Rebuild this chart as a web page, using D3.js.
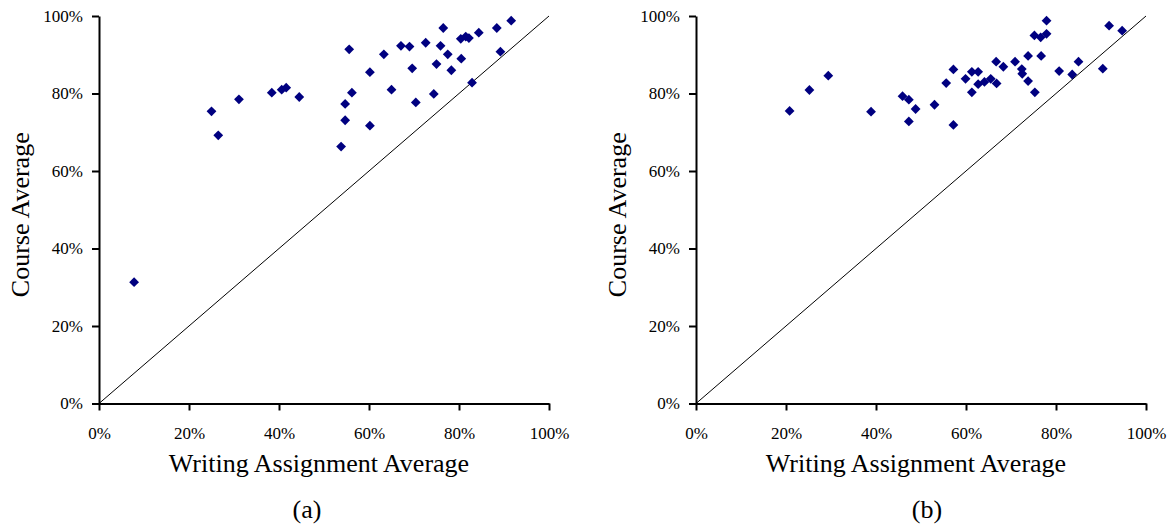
<!DOCTYPE html>
<html>
<head>
<meta charset="utf-8">
<script src="https://cdn.jsdelivr.net/npm/d3@7"></script>
<style>
  body { margin: 0; background: #fff; }
  svg, svg text { font-family: "Liberation Serif", "Times New Roman", serif; }
  .axis path, .axis line { stroke: #000; stroke-width: 2; }
  .axis text { font-family: "Liberation Serif", "Times New Roman", serif; font-size: 17px; fill: #000; }
  .title { font-size: 26px; fill: #000; }
  .tag { font-size: 26px; fill: #000; }
</style>
</head>
<body>
<svg width="1171" height="525"></svg>
<script>
// panel (a) - writing assignment avg vs course avg (%)
var aWriting = [7.8, 25.0, 26.5, 31.1, 38.4, 40.6, 41.6, 44.5, 53.8, 54.7, 54.7, 55.6, 56.2,
    60.2, 60.2, 63.3, 65.0, 67.1, 69.0, 69.6, 70.4, 72.6, 74.4, 75.0, 75.9, 76.5, 77.5,
    78.3, 80.4, 80.5, 81.5, 82.2, 82.9, 84.4, 88.4, 89.2, 91.6];
var aCourse = [31.3, 75.4, 69.2, 78.5, 80.2, 81.0, 81.5, 79.1, 66.3, 77.3, 73.1, 91.4, 80.2,
    85.5, 71.7, 90.1, 81.0, 92.3, 92.1, 86.5, 77.7, 93.1, 79.9, 87.6, 92.3, 96.9, 90.1,
    86.0, 94.1, 89.0, 94.7, 94.3, 82.8, 95.7, 96.9, 90.8, 98.8];

// panel (b)
var bWriting = [20.8, 25.2, 29.4, 38.9, 45.9, 47.3, 48.8, 47.3, 53.0, 55.6, 57.2, 57.2, 59.9,
    61.3, 62.7, 61.3, 62.7, 64.1, 65.5, 66.8, 66.7, 68.3, 70.9, 72.4, 72.5, 73.8, 73.8,
    75.3, 75.2, 76.6, 77.9, 76.7, 77.9, 80.7, 83.6, 85.0, 90.4, 91.8, 94.7];
var bCourse = [75.5, 80.9, 84.6, 75.3, 79.3, 78.4, 76.0, 72.8, 77.1, 82.7, 86.2, 71.9, 83.8,
    85.6, 85.6, 80.3, 82.4, 83.0, 83.8, 82.6, 88.2, 86.9, 88.2, 86.3, 85.1, 83.2, 89.7,
    80.3, 95.0, 94.5, 95.4, 89.7, 98.8, 85.8, 84.9, 88.2, 86.4, 97.5, 96.2];

var ticks = [0, 20, 40, 60, 80, 100];
var xTitle = "Writing Assignment Average",
    yTitle = "Course Average";

var svg = d3.select("svg");
var pct = function(d){ return d + "%"; };

function drawPanel(left, xs, ys, tag, tagX) {
    var top = 16, bottom = 403.5, w = 450;
    var x = d3.scaleLinear().domain([0, 100]).range([left, left + w]);
    var y = d3.scaleLinear().domain([0, 100]).range([bottom, top]);
    var g = svg.append("g");

    g.append("g")
        .attr("class", "axis")
        .attr("transform", "translate(0," + bottom + ")")
        .call(d3.axisBottom(x).tickValues(ticks).tickFormat(pct).tickSize(7).tickSizeOuter(0).tickPadding(16));
    g.append("g")
        .attr("class", "axis")
        .attr("transform", "translate(" + left + ",0)")
        .call(d3.axisLeft(y).tickValues(ticks).tickFormat(pct).tickSize(7).tickSizeOuter(0).tickPadding(9));
    g.selectAll(".axis").attr("font-family", null);

    // reference line y = x
    g.append("line")
        .attr("x1", x(0)).attr("y1", y(0))
        .attr("x2", x(100)).attr("y2", y(100))
        .attr("stroke", "#000").attr("stroke-width", 1);

    var sym = d3.symbol().type(d3.symbolSquare).size(48);
    g.selectAll(".pt")
        .data(xs.map(function(v, i){ return [v, ys[i]]; }))
        .enter().append("path")
        .attr("class", "pt")
        .attr("d", sym)
        .attr("fill", "#000080")
        .attr("transform", function(d){ return "translate(" + x(d[0]) + "," + y(d[1]) + ") rotate(45)"; });

    g.append("text")
        .attr("class", "title")
        .attr("text-anchor", "middle")
        .attr("x", left + w / 2 - 5)
        .attr("y", 472)
        .text(xTitle);
    g.append("text")
        .attr("class", "title")
        .attr("text-anchor", "middle")
        .attr("transform", "translate(" + (left - 70) + "," + ((top + bottom) / 2 + 5) + ") rotate(-90)")
        .text(yTitle);
    g.append("text")
        .attr("class", "tag")
        .attr("text-anchor", "middle")
        .attr("x", tagX)
        .attr("y", 518)
        .text(tag);
}

drawPanel(99, aWriting, aCourse, "(a)", 307);
drawPanel(696, bWriting, bCourse, "(b)", 927);
</script>
</body>
</html>
